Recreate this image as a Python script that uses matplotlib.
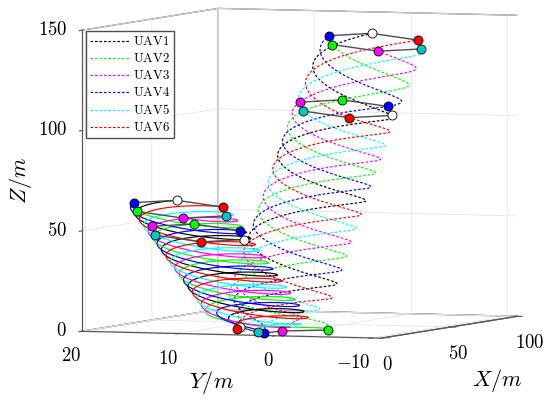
import numpy as np
import matplotlib
matplotlib.use('Agg')
import matplotlib.pyplot as plt
from mpl_toolkits.mplot3d import proj3d

plt.rcParams['mathtext.fontset'] = 'cm'
plt.rcParams['font.family'] = ['DejaVu Serif']
plt.rcParams['grid.color'] = '0.9'
plt.rcParams['grid.linewidth'] = 0.6

#---------------------------------data---------------------------------------------------------------
uav_names = ['UAV1', 'UAV2', 'UAV3', 'UAV4', 'UAV5', 'UAV6']
uav_colors = ['#000000', '#00ff00', '#ff00ff', '#0000ff', '#00ffff', '#ff0000']
marker_faces = ['#ffffff', '#00ff00', '#ff00ff', '#0000ff', '#00c8c8', '#ff0000']

# take-off positions on the ground (m)
start_x = [5, 5, 5, 5, 5, 5]
start_y = [4.7, -4.4, 0.3, 2.2, 2.8, 5.0]
start_z = [3.0, 2.5, 1.5, 0.3, 0.5, 2.0]

# slot angle of each UAV on the ring at the last snapshot (deg)
end_slot = [90, 210, 270, 150, 330, 30]
ring_radius = 5.3
turns = 10 / 3
t_snap = [0.0, 0.8, 1.0]

# formation centre at the snapshots, solid run
solid_cx = [5, 5, 5]
solid_cy = [1.75, 9.07, 10.9]
solid_cz = [1.7, 49.4, 61.0]
# formation centre at the snapshots, dashed run
dash_cx = [5, 75, 95]
dash_cy = [1.75, 3.35, 3.07]
dash_cz = [1.7, 104.5, 135.5]

# which UAVs are joined at each snapshot (1-based)
links_start = [[6, 1, 5, 4, 3, 2]]
links_mid = [[3, 2, 4], [5, 6, 1]]
links_end = [[4, 1, 6], [2, 3, 5]]

x_ticks = [0, 50, 100]
y_ticks = [-10, 0, 10, 20]
z_ticks = [0, 50, 100, 150]

#---------------------------------trajectories--------------------------------------------------------
e_h = np.array([0.0, -1.0, -0.13])
e_v = np.array([-0.46, 0.0, 0.886])
t = np.linspace(0, 1, 900)
w = np.clip(t / 0.12, 0, 1)
w = w * w * (3 - 2 * w)


def trajectories(cx, cy, cz):
    c = np.array([np.interp(t, t_snap, cx), np.interp(t, t_snap, cy), np.interp(t, t_snap, cz)])
    c0 = np.array([cx[0], cy[0], cz[0]])
    paths = []
    for k in range(6):
        th = np.deg2rad(end_slot[k] + 360 * turns * (1 - t))
        ring = ring_radius * (np.outer(e_h, np.cos(th)) + np.outer(e_v, np.sin(th)))
        s = np.array([start_x[k], start_y[k], start_z[k]]) - c0
        paths.append(c + w * ring + (1 - w) * s[:, None])
    return paths


solid = trajectories(solid_cx, solid_cy, solid_cz)
dashed = trajectories(dash_cx, dash_cy, dash_cz)


def snap(paths, ts):
    i = np.argmin(np.abs(t - ts))
    return [p[:, i] for p in paths]


#---------------------------------figure--------------------------------------------------------------
fig = plt.figure(figsize=(5.5, 4.01), dpi=100)
ax = fig.add_axes([0.1524, 0.0300, 0.7636, 1.0474], projection='3d', computed_zorder=False)
ax.set_proj_type('ortho')
ax.view_init(elev=3.48, azim=-159.26)
ax.set_box_aspect((386, 320, 301.6), zoom=1.3525)

for k in range(6):
    p = dashed[k]
    ax.plot(p[0], p[1], p[2], color=uav_colors[k], ls=(0, (2.2, 1.6)), lw=0.85,
            label=r'$\mathrm{' + uav_names[k] + '}$', zorder=2)
for k in range(6):
    p = solid[k]
    ax.plot(p[0], p[1], p[2], color=uav_colors[k], lw=0.85, zorder=3)

groups = [(solid, 0.0, links_start), (solid, 0.8, links_mid), (solid, 1.0, links_end),
          (dashed, 0.8, links_mid), (dashed, 1.0, links_end)]
for paths, ts, links in groups:
    pts = snap(paths, ts)
    for chain in links:
        q = np.array([pts[i - 1] for i in chain])
        ax.plot(q[:, 0], q[:, 1], q[:, 2], color='0.3', lw=1.0, zorder=4)
    for k in range(6):
        ax.plot([pts[k][0]], [pts[k][1]], [pts[k][2]], 'o', ms=6.5, mfc=marker_faces[k],
                mec='k', mew=0.6, zorder=5)

ax.set_xlim(-3, 100)
ax.set_ylim(-11, 20)
ax.set_zlim(0, 150)
ax.set_xticks(x_ticks)
ax.set_yticks(y_ticks)
ax.set_zticks(z_ticks)
for axis in (ax.xaxis, ax.yaxis, ax.zaxis):
    axis.set_tick_params(colors='0.35', label1On=False, label2On=False)
    axis.set_pane_color((1, 1, 1, 1))
    axis.pane.set_edgecolor('0.35')
    axis.pane.set_linewidth(0.9)
    axis.line.set_color('0.35')
    axis.line.set_linewidth(0.9)

ax.legend(loc='upper left', bbox_to_anchor=(86 / 550, 1 - 31 / 401), bbox_transform=fig.transFigure,
          borderaxespad=0, fontsize=9.3, handlelength=3.1, handletextpad=0.23, labelspacing=0.31,
          borderpad=0.32, fancybox=False, framealpha=1, edgecolor='0.3')

# tick labels: project points just outside the box edges through the axes' own projection
fig.canvas.draw()
to_fig = fig.transFigure.inverted()


def label_at(x, y, z, s, **kw):
    px, py, _ = proj3d.proj_transform(x, y, z, ax.get_proj())
    fx, fy = to_fig.transform(ax.transData.transform((px, py)))
    fig.text(fx, fy, s, fontsize=13.5, **kw)


for v in x_ticks:
    label_at(v, -10.7, -13.5, '$%d$' % v, ha='left', va='center')
for v in y_ticks:
    label_at(-3, v + 0.05, -12.5, '$%d$' % v, ha='right', va='center')
for v in z_ticks:
    label_at(-3, 21.5, v, '$%d$' % v, ha='right', va='center')

fig.text(497 / 550, 1 - 380 / 401, r'$X/m$', fontsize=16, ha='center', va='center')
fig.text(211 / 550, 1 - 382 / 401, r'$Y/m$', fontsize=16, ha='center', va='center')
fig.text(20 / 550, 1 - 180 / 401, r'$Z/m$', fontsize=16, ha='center', va='center', rotation=90)

fig.savefig('out.png', dpi=100)
